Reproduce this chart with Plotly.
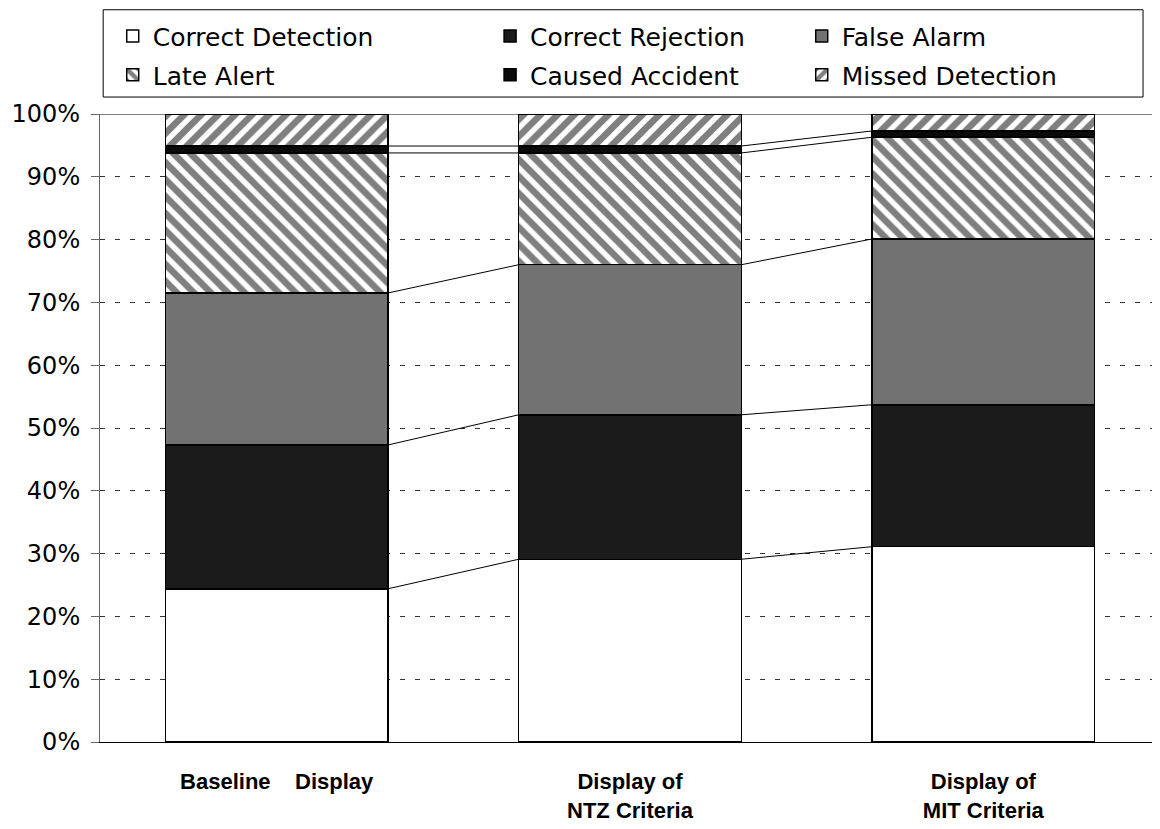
import numpy as np
import plotly.graph_objects as go

categories = ["Baseline\u00a0\u00a0\u00a0 Display", "Display of<br>NTZ Criteria", "Display of<br>MIT Criteria"]
correct_detection = [24.4, 29.1, 31.1]
correct_rejection = [22.9, 23.0, 22.6]
false_alarm = [24.2, 23.9, 26.4]
late_alert = [22.3, 17.8, 16.2]
caused_accident = [1.1, 1.1, 1.0]
missed_detection = [5.1, 5.1, 2.7]

series = [
    ("Correct Detection", correct_detection, "white", ""),
    ("Correct Rejection", correct_rejection, "#1b1b1b", ""),
    ("False Alarm", false_alarm, "#727272", ""),
    ("Late Alert", late_alert, "white", "\\"),
    ("Caused Accident", caused_accident, "#0a0a0a", ""),
    ("Missed Detection", missed_detection, "white", "/"),
]

xpos = np.arange(len(categories))
bar_w = 0.63

fig = go.Figure()
legend_ids = ["legend", "legend2", "legend3", "legend4", "legend5", "legend6"]
for (name, vals, color, shape), leg in zip(series, legend_ids):
    fig.add_trace(go.Bar(
        x=xpos, y=vals, name=name, width=bar_w, legend=leg,
        marker=dict(color=color, line=dict(color="black", width=1.5),
                    pattern=dict(shape=shape, fgcolor="black", bgcolor="white",
                                 size=12, solidity=0.55)),
    ))

# series lines joining the segment boundaries of neighbouring bars
cum = np.cumsum([s[1] for s in series[:-1]], axis=0)
for level in cum:
    for i in range(len(categories) - 1):
        fig.add_trace(go.Scatter(
            x=[xpos[i] + bar_w / 2, xpos[i + 1] - bar_w / 2],
            y=[level[i], level[i + 1]],
            mode="lines", line=dict(color="black", width=1),
            showlegend=False, hoverinfo="skip",
        ))

# one legend per entry so the 3x2 grid lines up like the original
leg_x = [0.012, 0.368, 0.662]
leg_y = [1.124, 1.062]
legends = {}
for k, leg in enumerate(legend_ids):
    legends[leg] = dict(x=leg_x[k % 3], y=leg_y[k // 3], xanchor="left", yanchor="middle",
                        bgcolor="rgba(0,0,0,0)", font=dict(family="DejaVu Sans", size=25))

fig.update_layout(
    width=1152, height=821,
    barmode="stack",
    paper_bgcolor="white", plot_bgcolor="white",
    margin=dict(l=92, r=0, t=106, b=87, autoexpand=False),
    font=dict(family="DejaVu Sans", size=22, color="black"),
    shapes=[
        dict(type="rect", xref="paper", yref="paper", x0=0.003, x1=0.984, y0=1.027, y1=1.166,
             line=dict(color="black", width=1)),
        dict(type="line", xref="paper", yref="y", x0=0, x1=1, y0=100, y1=100,
             line=dict(color="black", width=1)),
    ],
    **legends,
)

fig.update_xaxes(
    range=[-0.5, 2.5], tickvals=xpos, ticktext=[f"<b>{c}</b>" for c in categories],
    tickfont=dict(family="Liberation Sans", size=22), ticklabelstandoff=20,
    showline=True, linecolor="black", linewidth=1, ticks="", showgrid=False,
)
fig.update_yaxes(
    range=[0, 100], dtick=10, ticksuffix="%",
    tickfont=dict(family="DejaVu Sans", size=24), ticklabelstandoff=6,
    showline=True, linecolor="#666", linewidth=1, ticks="outside", ticklen=8, tickcolor="#666",
    showgrid=True, gridcolor="#333", gridwidth=1, griddash="5px,10px", zeroline=False,
)

fig.write_html("out.html")
